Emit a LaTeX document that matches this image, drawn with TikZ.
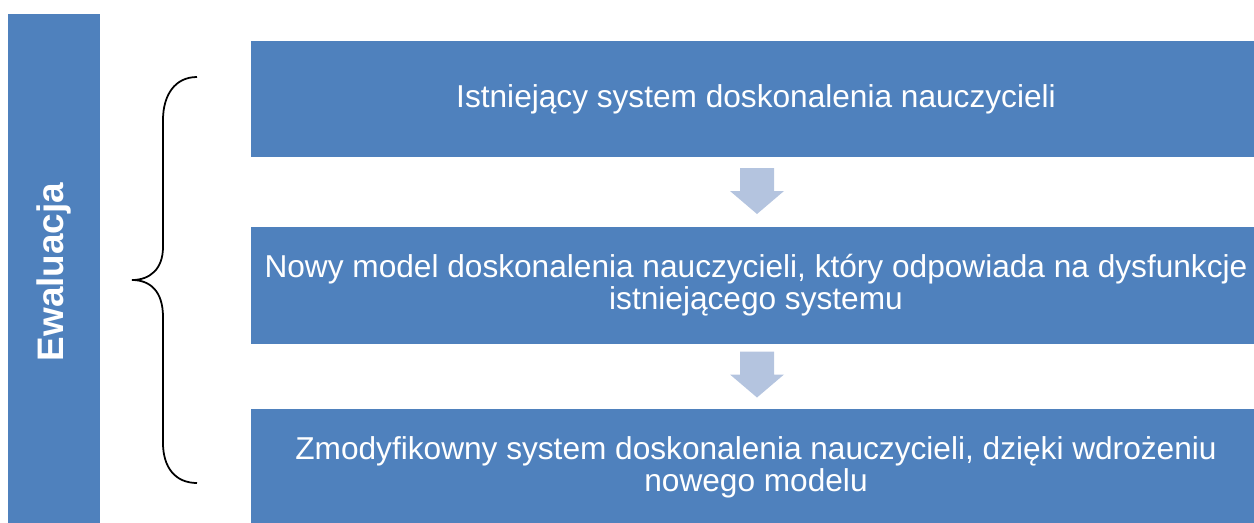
\documentclass[tikz,border=0pt]{standalone}
\usepackage{fontspec}
\setmainfont{Liberation Sans}
\definecolor{boxblue}{HTML}{4F81BD}
\definecolor{arrowblue}{HTML}{B4C4DF}

\begin{document}
\begin{tikzpicture}[
  stage/.style={fill=boxblue, text=white, minimum width=20.2cm, minimum height=2.34cm, align=center, inner sep=0pt, font=\fontsize{18}{18.4}\selectfont},
  side/.style={fill=boxblue, text=white, minimum width=1.84cm, minimum height=10.32cm, inner sep=0pt},
  flow/.style={fill=arrowblue},
  brace/.style={draw=black, line width=1pt}]
\useasboundingbox (0,0) rectangle (25.08,-10.44);
\node[side] (S) at (1.08,-5.44) {};
\node[rotate=90, text=white, font=\fontsize{21}{24}\selectfont\bfseries] (SL) at (1.08,-5.44) {Ewaluacja};
\node[stage, minimum height=2.32cm] (B1) at (15.12,-1.98) {Istniejący system doskonalenia nauczycieli};
\node[stage] (B2) at (15.12,-5.70) {Nowy model doskonalenia nauczycieli, który odpowiada na dysfunkcje\\istniejącego systemu};
\node[stage] (B3) at (15.12,-9.35) {Zmodyfikowny system doskonalenia nauczycieli, dzięki wdrożeniu\\nowego modelu};
\coordinate (A1) at (15.14,-3.82);
\coordinate (A2) at (15.14,-7.49);
% block arrows between the stages
\foreach \a in {A1,A2} {
  \fill[flow] ([shift={(-0.34,0.46)}]\a) -- ([shift={(0.34,0.46)}]\a) -- ([shift={(0.34,0)}]\a)
    -- ([shift={(0.54,0)}]\a) -- ([shift={(0,-0.46)}]\a) -- ([shift={(-0.54,0)}]\a)
    -- ([shift={(-0.34,0)}]\a) -- cycle;
}
% brace along the three stages
\draw[brace] (3.94,-1.54) .. controls (3.50,-1.54) and (3.26,-1.90) .. (3.26,-2.40)
  -- (3.26,-4.94) .. controls (3.26,-5.38) and (3.00,-5.60) .. (2.64,-5.60)
  .. controls (3.00,-5.60) and (3.26,-5.82) .. (3.26,-6.34)
  -- (3.26,-8.86) .. controls (3.26,-9.34) and (3.50,-9.66) .. (3.94,-9.66);
\end{tikzpicture}
\end{document}
